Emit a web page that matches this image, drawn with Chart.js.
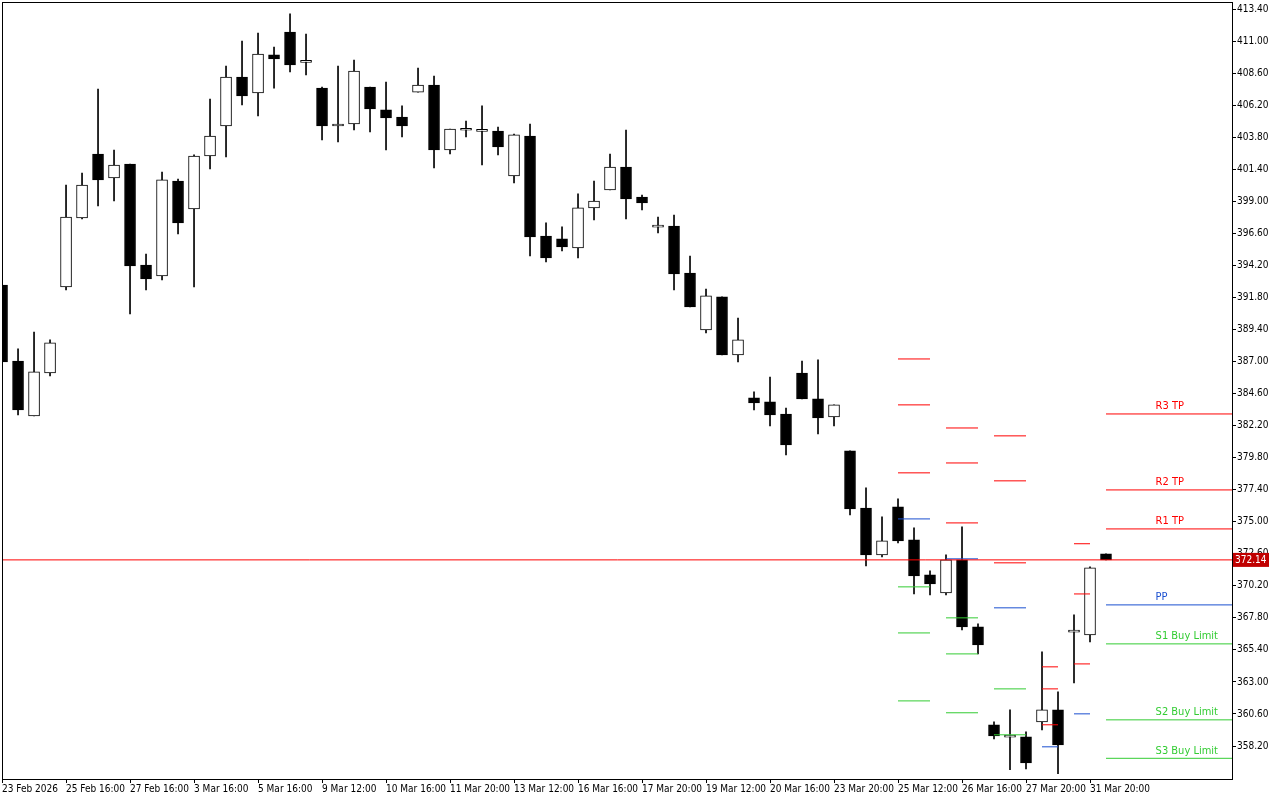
<!DOCTYPE html>
<html>
<head>
<meta charset="utf-8">
<script src="https://cdn.jsdelivr.net/npm/chart.js@4/dist/chart.umd.min.js"></script>
<style>
  body { margin: 0; background: #fff; }
  #wrap { width: 1280px; height: 800px; }
</style>
</head>
<body>
<div id="wrap"><canvas id="chart" width="1280" height="800"></canvas></div>
<script>
// ---- candle data (H4 bars, index 0..69) ----
const opens  = [392.73,387.04,382.92,386.14,392.58,397.75,402.54,400.75,401.79,394.23,
                393.41,400.52,398.42,402.39,404.64,408.31,407.11,409.96,411.68,409.40,
                407.48,404.64,404.79,407.56,405.84,405.31,407.18,407.71,402.84,404.32,
                404.24,404.26,400.89,403.89,396.40,396.18,395.50,398.50,399.85,401.57,
                399.32,397.06,397.15,393.63,389.36,391.84,387.49,384.27,383.97,383.07,
                386.14,384.20,382.85,380.30,376.03,372.52,376.11,373.64,371.02,369.67,
                372.14,367.12,359.79,358.87,358.89,360.01,360.91,366.73,366.52,372.59];
const highs  = [392.73,387.94,389.21,388.62,400.22,401.12,407.41,402.84,401.79,395.05,
                401.19,400.67,402.47,406.66,409.13,411.00,411.60,410.55,413.03,411.53,
                407.56,409.13,409.58,407.56,407.93,406.14,408.98,408.38,404.41,405.01,
                406.14,404.56,404.04,404.79,397.38,397.08,399.55,400.52,402.54,404.34,
                399.47,397.82,397.97,394.90,392.43,391.84,390.26,384.72,385.84,383.52,
                387.04,387.12,383.75,380.30,377.53,375.36,376.71,374.54,371.32,372.52,
                374.61,367.35,360.01,360.91,359.26,365.25,362.26,368.02,371.62,372.59];
const lows   = [386.97,383.00,382.92,385.92,392.36,397.68,398.65,399.02,390.56,392.36,
                393.11,396.55,392.58,401.42,402.32,406.21,405.39,407.48,408.68,408.46,
                403.59,403.44,404.34,404.19,402.84,403.82,407.18,401.49,402.54,403.82,
                401.72,402.47,400.37,394.90,394.46,395.28,394.75,397.60,399.85,397.68,
                398.35,396.63,392.36,391.09,389.14,387.49,386.97,383.37,382.17,380.00,
                384.20,381.57,382.17,375.51,371.69,372.37,373.41,369.59,369.52,369.52,
                366.90,365.10,358.74,356.42,356.49,359.41,356.12,362.93,366.00,372.14];
const closes = [386.97,383.37,386.22,388.39,397.82,400.22,400.60,401.72,394.16,393.18,
                400.60,397.38,402.39,403.89,408.31,406.89,410.03,409.66,409.21,409.45,
                404.64,404.79,408.76,405.91,405.24,404.64,407.71,402.84,404.41,404.36,
                404.28,403.07,403.97,396.33,394.75,395.58,398.50,399.02,401.57,399.17,
                398.87,397.10,393.56,391.09,391.91,387.49,388.62,383.90,383.00,380.75,
                384.20,382.77,383.75,375.96,372.52,373.56,373.56,370.94,370.34,372.14,
                367.12,365.78,358.96,358.91,356.94,360.91,358.29,366.77,371.54,372.14];
const lastPrice = 372.14;

// ---- time axis labels (every 4 bars) ----
const timeLabels = ['23 Feb 2026','25 Feb 16:00','27 Feb 16:00','3 Mar 16:00','5 Mar 16:00',
                    '9 Mar 12:00','10 Mar 16:00','11 Mar 20:00','13 Mar 12:00','16 Mar 16:00',
                    '17 Mar 20:00','19 Mar 12:00','20 Mar 16:00','23 Mar 20:00','25 Mar 12:00',
                    '26 Mar 16:00','27 Mar 20:00','31 Mar 20:00'];
const labelStep = 4;

// ---- price axis ----
const priceTicks = [358.20,360.60,363.00,365.40,367.80,370.20,372.60,375.00,377.40,379.80,
                    382.20,384.60,387.00,389.40,391.80,394.20,396.60,399.00,401.40,403.80,
                    406.20,408.60,411.00,413.40];

// ---- daily pivot levels: segment start/end bar ----
const pivotStart = [56, 59, 62, 65, 67, 69];
const pivotEnd   = [58, 61, 64, 66, 68, 77];
const r3 = [387.19,382.02,381.43,364.13,373.35,383.07];
const r2 = [383.75,379.40,378.06,362.48,369.59,377.38];
const r1 = [378.66,374.91,371.92,359.79,364.35,374.46];
const pp = [375.21,372.22,368.55,358.14,360.61,368.77];
const s1 = [370.12,367.80,362.48,355.30,355.40,365.85];
const s2 = [366.67,365.10,359.04,353.80,352.00,360.16];
const s3 = [361.58,360.69,355.50,352.00,349.00,357.28];
const pivotNames  = ['R3 TP','R2 TP','R1 TP','PP','S1 Buy Limit','S2 Buy Limit','S3 Buy Limit'];
const pivotSets   = [r3, r2, r1, pp, s1, s2, s3];
const pivotColors = ['#ff0000','#ff0000','#ff0000','#1a4fd0','#33cc33','#33cc33','#33cc33'];

const FONT = "'DejaVu Sans Condensed', 'Liberation Sans Narrow', 'DejaVu Sans', sans-serif";

const wickData = highs.map((h, i) => ({ x: i, y: [lows[i], h] }));
const bodyData = opens.map((o, i) => ({ x: i, y: [Math.min(o, closes[i]), Math.max(o, closes[i])] }));
const bodyFill = opens.map((o, i) => closes[i] < o ? '#000000' : '#ffffff');

const datasets = [
    { type: 'bar', data: wickData, backgroundColor: '#000', barThickness: 1, grouped: false, order: 3 },
    { type: 'bar', data: bodyData, backgroundColor: bodyFill, borderColor: '#000', borderWidth: 1,
      borderSkipped: false, barThickness: 11, minBarLength: 2, grouped: false, order: 2 }
];

// pivot segments
pivotSets.forEach((levels, k) => {
    levels.forEach((v, g) => {
        datasets.push({
            type: 'line',
            data: [{ x: pivotStart[g], y: v }, { x: pivotEnd[g], y: v }],
            borderColor: pivotColors[k], borderWidth: 1, pointRadius: 0, order: 1
        });
    });
});

// current price line
datasets.push({
    type: 'line',
    data: [{ x: -1, y: lastPrice }, { x: 80, y: lastPrice }],
    borderColor: '#ff0000', borderWidth: 1, pointRadius: 0, order: 0
});

const overlay = {
    id: 'overlay',
    afterDraw(chart) {
        const { ctx, scales: { x, y }, chartArea } = chart;
        ctx.save();
        // frame
        ctx.strokeStyle = '#000';
        ctx.lineWidth = 1;
        ctx.strokeRect(chartArea.left - 0.5, chartArea.top - 0.5,
                       chartArea.right - chartArea.left + 1, chartArea.bottom - chartArea.top + 1);
        // pivot labels on the last session
        ctx.font = '11px ' + FONT;
        ctx.textAlign = 'left';
        ctx.textBaseline = 'bottom';
        const lx = x.getPixelForValue(72.1);
        pivotSets.forEach((levels, k) => {
            const v = levels[levels.length - 1];
            ctx.fillStyle = pivotColors[k];
            ctx.fillText(pivotNames[k], lx, y.getPixelForValue(v) - 2);
        });
        // last price tag
        const py = y.getPixelForValue(lastPrice);
        ctx.fillStyle = '#c00000';
        ctx.fillRect(chartArea.right + 1, py - 7, 36, 14);
        ctx.fillStyle = '#fff';
        ctx.font = '10px ' + FONT;
        ctx.textBaseline = 'middle';
        ctx.fillText(lastPrice.toFixed(2), chartArea.right + 3, py + 1);
        ctx.restore();
    }
};

new Chart(document.getElementById('chart'), {
    type: 'bar',
    data: { datasets },
    options: {
        responsive: false,
        animation: false,
        layout: { padding: { left: 3, top: 3, right: 0, bottom: 0 } },
        plugins: { legend: { display: false }, tooltip: { enabled: false } },
        scales: {
            x: {
                type: 'linear', offset: false, min: 0.06, max: 76.875,
                afterBuildTicks: s => { s.ticks = timeLabels.map((t, i) => ({ value: i * labelStep })); },
                afterFit: s => { s.height = 21; s.paddingLeft = 0; s.paddingRight = 0; },
                grid: { drawOnChartArea: false, drawTicks: true, tickLength: 4, color: '#000', offset: false },
                border: { color: '#000' },
                ticks: {
                    autoSkip: false, maxRotation: 0, align: 'start', padding: 0,
                    color: '#000', font: { family: FONT, size: 10 },
                    callback: v => timeLabels[Math.round(v / labelStep)]
                }
            },
            y: {
                type: 'linear', position: 'right', min: 355.73, max: 413.85,
                afterBuildTicks: s => { s.ticks = priceTicks.map(v => ({ value: v })); },
                afterFit: s => { s.width = 48; s.paddingTop = 0; s.paddingBottom = 0; },
                grid: { drawOnChartArea: false, drawTicks: true, tickLength: 4, color: '#000' },
                border: { color: '#000' },
                ticks: {
                    padding: 1, color: '#000', font: { family: FONT, size: 10 },
                    callback: v => v.toFixed(2)
                }
            }
        }
    },
    plugins: [overlay]
});
</script>
</body>
</html>
